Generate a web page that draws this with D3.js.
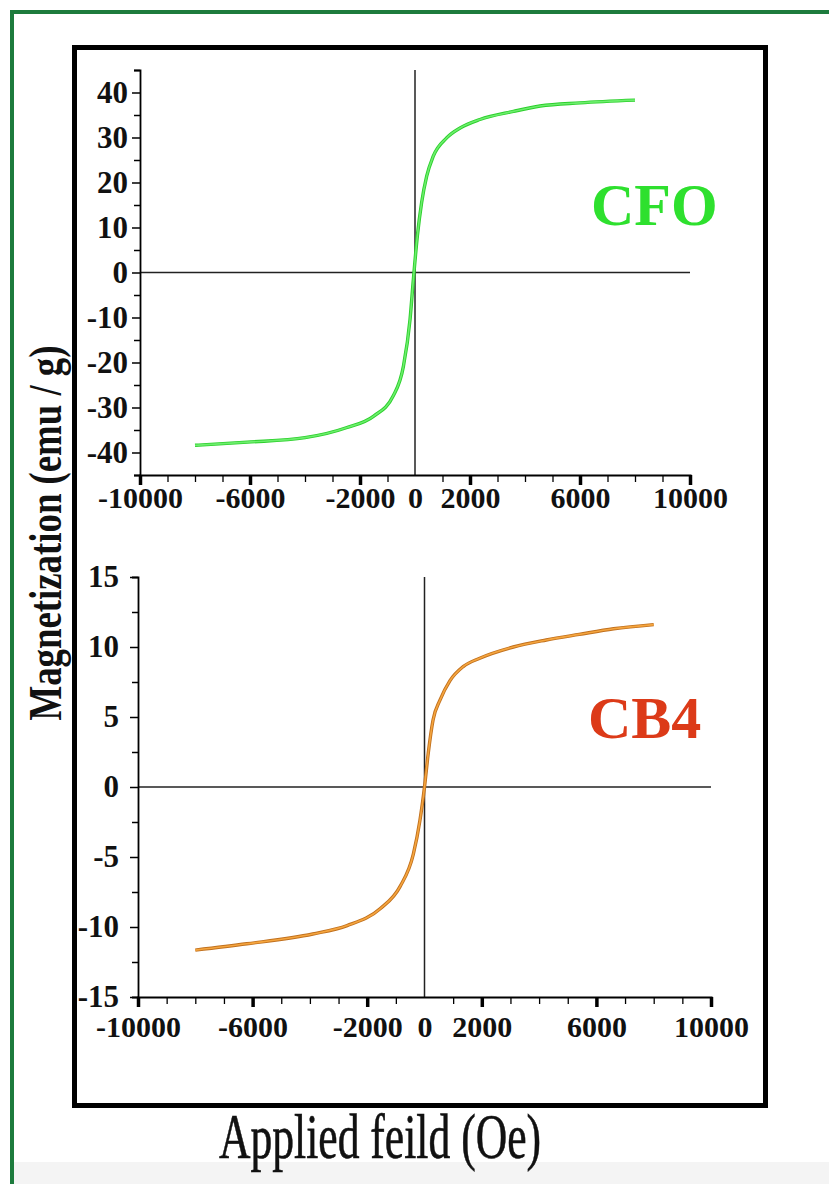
<!DOCTYPE html>
<html>
<head>
<meta charset="utf-8">
<script src="https://cdn.jsdelivr.net/npm/d3@7"></script>
<style>
    body { margin: 0; background: #fff; }
    svg text { font-family: "Liberation Serif", "Times New Roman", serif; fill: #111; }
</style>
</head>
<body>
<svg id="grafica"></svg>
<script>
"use strict";

// CFO loop: applied field (Oe) / magnetization (emu/g)
const campoCFO = [-8000, -6100, -4000, -2500, -1500, -800, -420, -180, -60, 85, 240, 425, 660, 1150, 1640, 2360, 3580, 4550, 6000, 8000];
const magCFO = [-38.4, -37.7, -36.7, -34.5, -31.9, -27.5, -20.8, -10.4, -1.6, 8.1, 15.5, 21.4, 25.8, 29.9, 32.1, 34.0, 35.8, 37.0, 37.7, 38.3];

// CB4 loop
const campoCB4 = [-8000, -6200, -3900, -2700, -1550, -850, -390, -160, 0, 130, 300, 540, 890, 1350, 1930, 3100, 4250, 5400, 6600, 8000];
const magCB4 = [-11.65, -11.2, -10.5, -9.9, -8.7, -7.1, -4.8, -2.4, 0, 2.4, 4.8, 6.2, 7.6, 8.6, 9.2, 10.0, 10.5, 10.9, 11.3, 11.6];

// ticks
const ticksCampo = [-10000, -6000, -2000, 0, 2000, 6000, 10000];
const ticksCampoMayores = [-10000, -6000, -2000, 2000, 6000, 10000];
const ticksCampoMenores = [-9000, -8000, -7000, -5000, -4000, -3000, -1000, 1000, 3000, 4000, 5000, 7000, 8000, 9000];
const ticksMagCFO = [-40, -30, -20, -10, 0, 10, 20, 30, 40];
const ticksMagCFOMenores = [-45, -35, -25, -15, -5, 5, 15, 25, 35, 45];
const ticksMagCB4 = [-15, -10, -5, 0, 5, 10, 15];
const ticksMagCB4Menores = [-12.5, -7.5, -2.5, 2.5, 7.5, 12.5];

const muestras = ["CFO", "CB4"];
const tituloY = "Magnetization (emu / g)";
const tituloX = "Applied feild (Oe)";

const ancho = 829, alto = 1184;
const formato = d => String(d);   // plain hyphen, no thousands separator
const svg = d3.select("#grafica").attr("width", ancho).attr("height", alto);

svg.append("rect").attr("width", ancho).attr("height", alto).attr("fill", "#fff");
svg.append("rect").attr("x", 14).attr("y", 1162).attr("width", ancho - 14).attr("height", 22).attr("fill", "#f4f4f4");

// green frame (top + left)
svg.append("path")
    .attr("d", "M12," + alto + "V12H" + ancho)
    .attr("fill", "none")
    .attr("stroke", "#1d7b3d")
    .attr("stroke-width", 4);

// black box
svg.append("rect")
    .attr("x", 74.5).attr("y", 47.5)
    .attr("width", 691).attr("height", 1058)
    .attr("fill", "none")
    .attr("stroke", "#000")
    .attr("stroke-width", 5);

function dibujarPanel(conf) {
    const x = d3.scaleLinear().domain([-10000, 10000]).range(conf.rangoX);
    const y = d3.scaleLinear().domain(conf.dominioY).range(conf.rangoY);
    const g = svg.append("g");
    const yBase = conf.rangoY[0];
    const xBase = conf.rangoX[0];

    // zero lines
    g.append("line")
        .attr("x1", x(-10000)).attr("x2", x(10000))
        .attr("y1", y(0)).attr("y2", y(0))
        .attr("stroke", "#222").attr("stroke-width", 1.5);
    g.append("line")
        .attr("x1", x(0)).attr("x2", x(0))
        .attr("y1", y(conf.dominioY[1])).attr("y2", y(conf.dominioY[0]))
        .attr("stroke", "#222").attr("stroke-width", 1.5);

    // x axis: minor, major, labels
    g.append("g").attr("transform", "translate(0," + yBase + ")")
        .call(d3.axisBottom(x).tickValues(ticksCampoMenores).tickSize(7).tickFormat(""))
        .call(s => s.selectAll("line").attr("stroke-width", 1.3))
        .call(s => s.select(".domain").attr("stroke-width", 2));
    g.append("g").attr("transform", "translate(0," + yBase + ")")
        .call(d3.axisBottom(x).tickValues(ticksCampoMayores).tickSize(10).tickSizeOuter(0).tickFormat(""))
        .call(s => s.selectAll("line").attr("stroke-width", 3.5))
        .call(s => s.select(".domain").remove());
    g.append("g").attr("transform", "translate(0," + yBase + ")")
        .call(d3.axisBottom(x).tickValues(ticksCampo).tickSize(0).tickPadding(conf.padX).tickFormat(formato))
        .call(s => s.select(".domain").remove())
        .call(s => s.selectAll("text")
            .attr("font-size", 30).attr("font-weight", "bold").attr("fill", "#111")
            .style("font-family", "'Liberation Serif', serif"));

    // y axis
    g.append("g").attr("transform", "translate(" + xBase + ",0)")
        .call(d3.axisLeft(y).tickValues(conf.ticksMenores).tickSize(6).tickFormat(""))
        .call(s => s.selectAll("line").attr("stroke-width", 1.5))
        .call(s => s.select(".domain").attr("stroke-width", 1.8));
    g.append("g").attr("transform", "translate(" + xBase + ",0)")
        .call(d3.axisLeft(y).tickValues(conf.ticks).tickSize(8).tickPadding(conf.padY).tickFormat(formato))
        .call(s => s.select(".domain").remove())
        .call(s => s.selectAll("line").attr("stroke-width", 1.5))
        .call(s => s.selectAll("text")
            .attr("font-size", 31).attr("font-weight", "bold").attr("fill", "#111")
            .style("font-family", "'Liberation Serif', serif"));

    // curve
    const puntos = conf.campo.map((c, i) => [c, conf.mag[i]]);
    const linea = d3.line()
        .x(d => x(d[0]))
        .y(d => y(d[1]))
        .curve(d3.curveMonotoneX);
    g.append("path").datum(puntos)
        .attr("d", linea).attr("fill", "none")
        .attr("stroke", conf.colorBorde).attr("stroke-width", 3.4);
    g.append("path").datum(puntos)
        .attr("d", linea).attr("fill", "none")
        .attr("stroke", conf.color).attr("stroke-width", 1.6);

    g.append("text")
        .attr("x", conf.etiqueta[0]).attr("y", conf.etiqueta[1])
        .attr("font-size", 60).attr("font-weight", "bold")
        .style("fill", conf.colorTexto)
        .text(conf.nombre);
}

dibujarPanel({
    nombre: muestras[0],
    campo: campoCFO, mag: magCFO,
    rangoX: [140, 690], dominioY: [-45, 45], rangoY: [475, 70],
    ticks: ticksMagCFO, ticksMenores: ticksMagCFOMenores,
    padX: 12, padY: 4,
    color: "#6cee6c", colorBorde: "#2ccf2c", colorTexto: "#2ee02e",
    etiqueta: [591, 225]
});

dibujarPanel({
    nombre: muestras[1],
    campo: campoCB4, mag: magCB4,
    rangoX: [138, 711], dominioY: [-15, 15], rangoY: [997, 577],
    ticks: ticksMagCB4, ticksMenores: ticksMagCB4Menores,
    padX: 19, padY: 11,
    color: "#f5a53e", colorBorde: "#c0701e", colorTexto: "#dc3a18",
    etiqueta: [588, 738]
});

// axis titles
svg.append("text")
    .attr("transform", "translate(61,533) rotate(-90)")
    .attr("text-anchor", "middle")
    .attr("font-size", 46).attr("font-weight", "bold")
    .attr("textLength", 375).attr("lengthAdjust", "spacingAndGlyphs")
    .text(tituloY);

svg.append("text")
    .attr("x", 380).attr("y", 1158)
    .attr("text-anchor", "middle")
    .attr("font-size", 64)
    .attr("stroke", "#111").attr("stroke-width", 0.6)
    .attr("textLength", 322).attr("lengthAdjust", "spacingAndGlyphs")
    .text(tituloX);
</script>
</body>
</html>
